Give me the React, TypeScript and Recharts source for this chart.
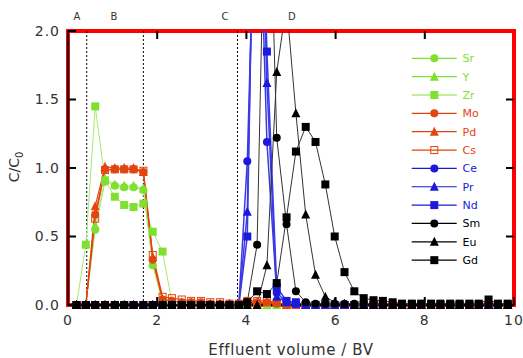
import { Legend, Line, LineChart, ReferenceArea, ReferenceLine, XAxis, YAxis } from "recharts";

// bed volumes of the effluent fractions
const volume = [
  0.19, 0.4, 0.61, 0.83, 1.05, 1.26, 1.47, 1.69, 1.9, 2.12, 2.33, 2.55, 2.76, 2.98, 3.19, 3.41,
  3.62, 3.83, 4.02, 4.24, 4.46, 4.68, 4.9, 5.11, 5.33, 5.55, 5.77, 5.98, 6.2, 6.42, 6.63, 6.85,
  7.06, 7.28, 7.49, 7.71, 7.92, 8.14, 8.35, 8.57, 8.78, 9.0, 9.21, 9.43, 9.64, 9.86,
];

const sr = [
  0, 0, 0.55, 0.9, 0.87, 0.86, 0.86, 0.84, 0.29, 0.02, 0.01, 0.01, 0, 0, 0, 0,
  0, 0, 0, 0, 0, 0, 0, 0, 0, 0, 0, 0, 0, 0, 0, 0,
  0, 0, 0, 0, 0, 0, 0, 0, 0, 0, 0, 0, 0, 0,
];
const y = [
  0, 0, 0.58, 0.92, 0.88, 0.87, 0.87, 0.85, 0.31, 0.02, 0.01, 0.01, 0, 0, 0, 0,
  0, 0, 0, 0, 0, 0, 0, 0, 0, 0, 0, 0, 0, 0, 0, 0,
  0, 0, 0, 0, 0, 0, 0, 0, 0, 0, 0, 0, 0, 0,
];
const zr = [
  0, 0.44, 1.45, 0.91, 0.79, 0.73, 0.715, 0.74, 0.535, 0.39, 0.02, 0.01, 0.01, 0.01, 0, 0,
  0, 0, 0, 0, 0, 0, 0, 0, 0, 0, 0, 0, 0, 0, 0, 0,
  0, 0, 0, 0, 0, 0, 0, 0, 0, 0, 0, 0, 0, 0,
];
const mo = [
  0, 0, 0.66, 0.99, 0.99, 0.99, 0.99, 0.97, 0.33, 0.04, 0.03, 0.02, 0.02, 0.02, 0.01, 0.01,
  0.01, 0.01, 0.02, 0.02, 0.02, 0.01, 0, 0, 0, 0, 0, 0, 0, 0, 0, 0,
  0, 0, 0, 0, 0, 0, 0, 0, 0, 0, 0, 0, 0, 0,
];
const pd = [
  0, 0, 0.72, 1.01, 1.0, 1.0, 1.0, 0.97, 0.35, 0.04, 0.03, 0.02, 0.02, 0.01, 0.01, 0.01,
  0.01, 0.01, 0.02, 0.02, 0.02, 0.02, 0, 0, 0, 0, 0, 0, 0, 0, 0, 0,
  0, 0, 0, 0, 0, 0, 0, 0, 0, 0, 0, 0, 0, 0,
];
const cs = [
  0, 0, 0.63, 0.985, 0.99, 0.99, 0.99, 0.98, 0.365, 0.06, 0.05, 0.04, 0.03, 0.03, 0.02, 0.02,
  0.01, 0.01, 0.03, 0.03, 0.03, 0.02, 0, 0, 0, 0, 0, 0, 0, 0, 0, 0,
  0, 0, 0, 0, 0, 0, 0, 0, 0, 0, 0, 0, 0, 0,
];
const ce = [
  0, 0, 0, 0, 0, 0, 0, 0, 0, 0, 0, 0, 0, 0, 0, 0,
  0, 0, 1.05, 3.6, 1.19, 0.09, 0.02, 0.01, 0, 0, 0, 0, 0, 0, 0, 0,
  0, 0, 0, 0, 0, 0, 0, 0, 0, 0, 0, 0, 0, 0,
];
const pr = [
  0, 0, 0, 0, 0, 0, 0, 0, 0, 0, 0, 0, 0, 0, 0, 0,
  0, 0, 0.68, 4.2, 1.62, 0.06, 0.02, 0.01, 0, 0, 0, 0, 0, 0, 0, 0,
  0, 0, 0, 0, 0, 0, 0, 0, 0, 0, 0, 0, 0, 0,
];
const nd = [
  0, 0, 0, 0, 0, 0, 0, 0, 0, 0, 0, 0, 0, 0, 0, 0,
  0, 0, 0.5, 4.5, 1.85, 0.13, 0.03, 0.02, 0, 0, 0, 0, 0, 0, 0, 0,
  0, 0, 0, 0, 0, 0, 0, 0, 0, 0, 0, 0, 0, 0,
];
const sm = [
  0, 0, 0, 0, 0, 0, 0, 0, 0, 0, 0, 0, 0, 0, 0, 0,
  0, 0, 0.02, 0.44, 3.8, 1.22, 0.59, 0.1, 0.02, 0.01, 0.01, 0.01, 0.01, 0.01, 0.01, 0,
  0, 0, 0, 0, 0, 0, 0, 0, 0, 0, 0, 0, 0, 0,
];
const eu = [
  0, 0, 0, 0, 0, 0, 0, 0, 0, 0, 0, 0, 0, 0, 0, 0,
  0, 0, 0, 0, 0.29, 1.7, 2.2, 1.4, 0.66, 0.22, 0.06, 0.02, 0.01, 0, 0, 0,
  0, 0, 0, 0, 0, 0, 0, 0, 0, 0, 0, 0, 0, 0,
];
const gd = [
  0, 0, 0, 0, 0, 0, 0, 0, 0, 0, 0, 0, 0, 0, 0, 0,
  0, 0, 0.02, 0.1, 0.08, 0.16, 0.64, 1.12, 1.3, 1.19, 0.88, 0.5, 0.24, 0.1, 0.05, 0.035,
  0.03, 0.02, 0.01, 0.01, 0.01, 0.01, 0.01, 0.01, 0.01, 0.01, 0.01, 0.04, 0.01, 0.01,
];

const xTicks = [0, 2, 4, 6, 8, 10];
const yTicks = [0, 0.5, 1.0, 1.5, 2.0];
const topTicks = [2, 4, 6, 8];
const rightTicks = [0.5, 1.0, 1.5];
const regionBounds = [0.42, 1.69, 3.8];
const regionNames = ["A", "B", "C", "D"];
const regionCenters = [0.2, 1.03, 3.52, 5.02];

const X_MAX = 10;
const Y_MAX = 2;

const W = 523;
const H = 358;
const M = { top: 31, right: 9, bottom: 0, left: 0 };
const Y_AXIS_W = 68;
const X_AXIS_H = 53;

const GREEN = "#80e030";
const ORANGE = "#e2450f";
const BLUE = "#1a1ad8";
const BLACK = "#000000";

type Shape = "circle" | "triangle" | "square" | "open";

const series: { name: string; values: number[]; color: string; line: string; width: number; shape: Shape }[] = [
  { name: "Sr", values: sr, color: GREEN, line: "#a4ec70", width: 1, shape: "circle" },
  { name: "Y", values: y, color: GREEN, line: "#a4ec70", width: 1, shape: "triangle" },
  { name: "Zr", values: zr, color: GREEN, line: "#a4ec70", width: 1, shape: "square" },
  { name: "Mo", values: mo, color: ORANGE, line: ORANGE, width: 1.2, shape: "circle" },
  { name: "Pd", values: pd, color: ORANGE, line: ORANGE, width: 1.2, shape: "triangle" },
  { name: "Cs", values: cs, color: ORANGE, line: ORANGE, width: 1.2, shape: "open" },
  { name: "Ce", values: ce, color: BLUE, line: "#3a3ae6", width: 1.5, shape: "circle" },
  { name: "Pr", values: pr, color: BLUE, line: "#3a3ae6", width: 1.5, shape: "triangle" },
  { name: "Nd", values: nd, color: BLUE, line: "#3a3ae6", width: 1.5, shape: "square" },
  { name: "Sm", values: sm, color: BLACK, line: "#333333", width: 1, shape: "circle" },
  { name: "Eu", values: eu, color: BLACK, line: "#333333", width: 1, shape: "triangle" },
  { name: "Gd", values: gd, color: BLACK, line: "#333333", width: 1, shape: "square" },
];

const data = volume.map((x, i) => {
  const row: Record<string, number | null> = { x };
  series.forEach((s) => {
    row[s.name] = s.values[i];
    row[s.name + "_m"] = s.values[i] <= Y_MAX ? s.values[i] : null;
  });
  return row;
});

function Marker({ cx, cy, shape, color }: { cx: number; cy: number; shape: Shape; color: string }) {
  const h = 4;
  if (shape === "circle") return <circle cx={cx} cy={cy} r={h} fill={color} />;
  if (shape === "triangle")
    return (
      <polygon
        points={`${cx},${cy - h - 1} ${cx - h - 0.5},${cy + h} ${cx + h + 0.5},${cy + h}`}
        fill={color}
      />
    );
  if (shape === "open")
    return <rect x={cx - h + 0.5} y={cy - h + 0.5} width={2 * h - 1} height={2 * h - 1} fill="none" stroke={color} strokeWidth={1} />;
  return <rect x={cx - h} y={cy - h} width={2 * h} height={2 * h} fill={color} />;
}

const font = "DejaVu Sans, Verdana, sans-serif";

function renderLegend() {
  return (
    <svg width={100} height={230} style={{ display: "block" }}>
      {series.map((s, i) => {
        const ry = 10.3 + i * 18.35;
        return (
          <g key={s.name}>
            <line x1={6.7} x2={51.7} y1={ry} y2={ry} stroke={s.color} strokeWidth={1.2} />
            <Marker cx={29.3} cy={ry} shape={s.shape} color={s.color} />
            <text x={57.5} y={ry + 4} fontSize={11} fontFamily={font} fill={s.color}>
              {s.name}
            </text>
          </g>
        );
      })}
    </svg>
  );
}

const YLabel = () => (
  <text
    x={19}
    y={167}
    transform="rotate(-90, 19, 167)"
    textAnchor="middle"
    fontSize={14}
    fontFamily={font}
    fill="#333"
  >
    C/C<tspan fontSize={10} dy={4}>0</tspan>
  </text>
);

export default function App() {
  const tickStyle = { fill: "#333", fontSize: 14, fontFamily: font, letterSpacing: 1 };
  const axisStroke = { stroke: "#000", strokeWidth: 2 };
  // inward frame tick length (8px) in data units
  const tickDy = (8 / 274) * Y_MAX;
  const tickDx = (8 / 446) * X_MAX;
  return (
    <div style={{ position: "absolute", left: 0, top: 0, width: W, height: H, background: "#fff" }}>
      <LineChart width={W} height={H} data={data} margin={M}>
        <XAxis
          dataKey="x"
          type="number"
          domain={[0, X_MAX]}
          ticks={xTicks}
          height={X_AXIS_H}
          tickSize={-8}
          tickMargin={18}
          tick={tickStyle}
          tickFormatter={(v) => String(v)}
          axisLine={axisStroke}
          tickLine={axisStroke}
          label={{ value: "Effluent volume / BV", position: "insideBottom", offset: 3, fontSize: 15, fontFamily: font, fill: "#333", letterSpacing: 0.6 }}
        />
        <YAxis
          type="number"
          domain={[0, Y_MAX]}
          allowDataOverflow
          ticks={yTicks}
          width={Y_AXIS_W}
          tickSize={-8}
          tickMargin={16}
          tick={tickStyle}
          tickFormatter={(v) => Number(v).toFixed(1)}
          axisLine={axisStroke}
          tickLine={axisStroke}
          label={{ content: () => <YLabel /> }}
        />
        <YAxis yAxisId="m" hide type="number" domain={[0, Y_MAX]} />
        {/* box frame around the plot area */}
        <ReferenceArea
          x1={0}
          x2={X_MAX}
          y1={0}
          y2={Y_MAX}
          ifOverflow="visible"
          fill="none"
          fillOpacity={0}
          stroke="#ff0000"
          strokeWidth={4}
        />
        {topTicks.map((t) => (
          <ReferenceLine
            key={"t" + t}
            ifOverflow="visible"
            segment={[{ x: t, y: Y_MAX }, { x: t, y: Y_MAX - tickDy }]}
            stroke="#000"
            strokeWidth={2}
          />
        ))}
        {rightTicks.map((t) => (
          <ReferenceLine
            key={"r" + t}
            ifOverflow="visible"
            segment={[{ x: X_MAX, y: t }, { x: X_MAX - tickDx, y: t }]}
            stroke="#000"
            strokeWidth={2}
          />
        ))}
        {regionBounds.map((b) => (
          <ReferenceLine key={"b" + b} x={b} stroke="#000" strokeWidth={1} strokeDasharray="2 2" />
        ))}
        {regionNames.map((n, i) => (
          <ReferenceLine
            key={n}
            x={regionCenters[i]}
            stroke="none"
            label={{ value: n, position: "top", offset: 11, fontSize: 10, fontFamily: font, fill: "#333" }}
          />
        ))}
        {series.flatMap((s) => [
          <Line
            key={s.name}
            dataKey={s.name}
            stroke={s.line}
            strokeWidth={s.width}
            dot={false}
            activeDot={false}
            legendType="none"
            isAnimationActive={false}
          />,
          <Line
            key={s.name + "_m"}
            yAxisId="m"
            dataKey={s.name + "_m"}
            stroke="none"
            legendType="none"
            activeDot={false}
            isAnimationActive={false}
            dot={(p: any) =>
              p.cy == null || p.value == null ? (
                <g key={p.index} />
              ) : (
                <Marker key={p.index} cx={p.cx} cy={p.cy} shape={s.shape} color={s.color} />
              )
            }
          />,
        ])}
        <Legend
          layout="horizontal"
          verticalAlign="middle"
          align="center"
          content={renderLegend}
          wrapperStyle={{ left: 405, top: 48, width: 100, height: 230 }}
        />
      </LineChart>
    </div>
  );
}
